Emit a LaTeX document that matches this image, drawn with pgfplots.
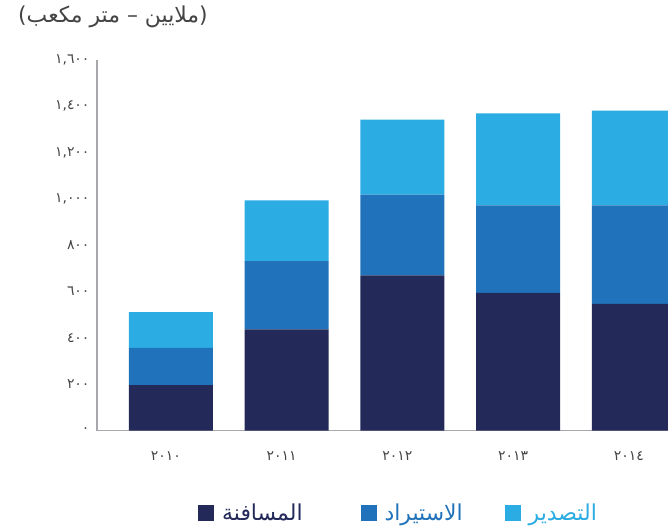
\documentclass[border=0pt]{standalone}
\usepackage{pgfplots}
\pgfplotsset{compat=1.18}
\usepackage{fontspec}
\TeXXeTstate=1
\setmainfont{DejaVu Sans}
\newfontfamily\arabicfont[Script=Arabic]{DejaVu Sans}

\definecolor{cDark}{HTML}{232A5A}
\definecolor{cMid}{HTML}{2073BA}
\definecolor{cLight}{HTML}{2BACE3}
\definecolor{cAxis}{HTML}{A7A7AC}
\definecolor{cText}{HTML}{444444}

\begin{document}
\begin{tikzpicture}
\path[use as bounding box] (-97bp,-96.5bp) rectangle (571bp,430.5bp);
\begin{axis}[
    at={(0,0)}, anchor=south west,
    scale only axis,
    width=571bp, height=370.5bp,
    ybar stacked, bar width=84bp,
    xmin=-0.639, xmax=4.294,
    ymin=0, ymax=1600,
    axis x line*=bottom, axis y line*=left,
    axis line style={draw=cAxis, line width=1.8bp},
    major tick length=0pt,
    xtick={0,1,2,3,4},
    xticklabels={٢٠١٠,٢٠١١,٢٠١٢,٢٠١٣,٢٠١٤},
    ytick={0,200,400,600,800,1000,1200,1400,1600},
    yticklabels={٠,٢٠٠,٤٠٠,٦٠٠,٨٠٠,{١,٠٠٠},{١,٢٠٠},{١,٤٠٠},{١,٦٠٠}},
    tick label style={font=\arabicfont\fontsize{14}{16}\selectfont, text=cText},
    xticklabel style={yshift=-18bp, xshift=-5bp},
    yticklabel style={xshift=-4bp},
    legend columns=3,
    legend style={draw=none, at={(0.528,-0.223)}, anchor=center,
        font=\arabicfont\fontsize{22}{24}\selectfont,
        /tikz/every odd column/.append style={column sep=6bp},
        /tikz/column 2/.style={column sep=56bp},
        /tikz/column 4/.style={column sep=40bp}},
    legend image code/.code={\fill[#1] (0bp,-8bp) rectangle (16bp,8bp);},
]

% المسافنة
\addplot[fill=cDark, draw=none] coordinates {
    (0,196) (1,437) (2,670) (3,594) (4,547)
};
\addlegendentry{\textcolor{cDark}{المسافنة}}

% الاستيراد
\addplot[fill=cMid, draw=none] coordinates {
    (0,161) (1,294) (2,349) (3,378) (4,425)
};
\addlegendentry{\textcolor{cMid}{الاستيراد}}

% التصدير
\addplot[fill=cLight, draw=none] coordinates {
    (0,154) (1,263) (2,324) (3,397) (4,409)
};
\addlegendentry{\textcolor{cLight}{التصدير}}

\end{axis}
\node[anchor=west, text=cText, font=\arabicfont\fontsize{22}{24}\selectfont, inner sep=0pt]
    at (-79bp,413.5bp) {\beginR(ملايين – متر مكعب)\endR};
\end{tikzpicture}
\end{document}
